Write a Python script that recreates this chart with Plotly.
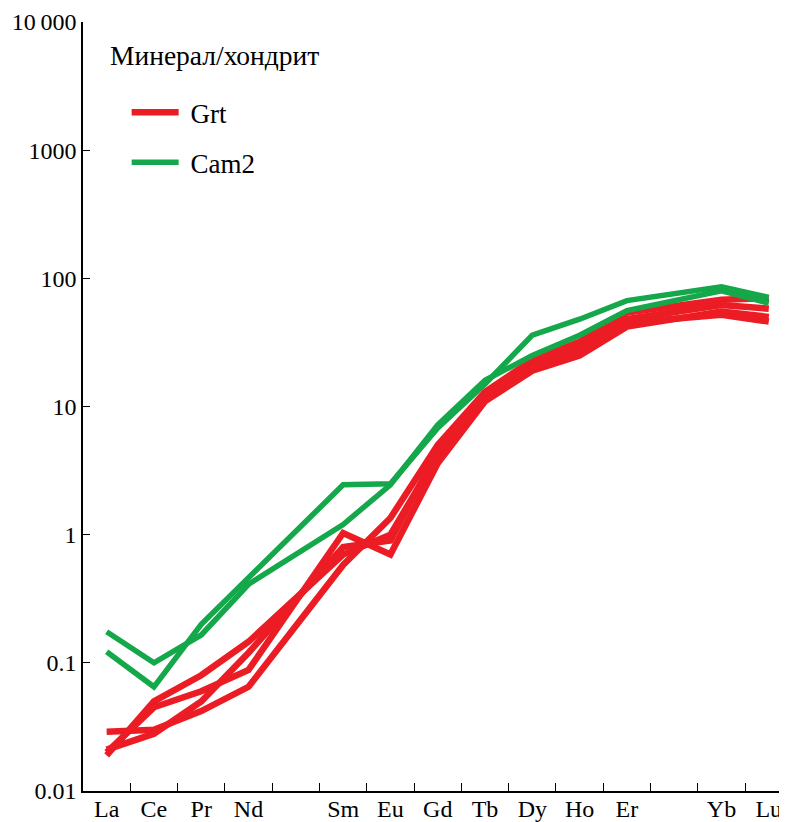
import plotly.graph_objects as go

elements = ["La", "Ce", "Pr", "Nd", "Pm", "Sm", "Eu", "Gd", "Tb", "Dy", "Ho", "Er", "Tm", "Yb", "Lu"]
tick_labels = ["La", "Ce", "Pr", "Nd", "", "Sm", "Eu", "Gd", "Tb", "Dy", "Ho", "Er", "", "Yb", "Lu"]
ree = ["La", "Ce", "Pr", "Nd", "Sm", "Eu", "Gd", "Tb", "Dy", "Ho", "Er", "Yb", "Lu"]

grt_1 = [0.029, 0.030, 0.042, 0.065, 0.58, 1.35, 5.0, 13.0, 23.0, 32.0, 54.0, 68.0, 70.0]
grt_2 = [0.019, 0.050, 0.080, 0.146, 0.70, 1.00, 4.2, 12.0, 21.0, 29.0, 48.0, 62.0, 58.0]
grt_3 = [0.020, 0.045, 0.060, 0.088, 1.03, 0.70, 3.6, 11.0, 19.0, 25.0, 42.0, 55.0, 50.0]
grt_4 = [0.021, 0.028, 0.050, 0.120, 0.80, 0.90, 4.5, 12.5, 20.0, 28.0, 45.0, 52.0, 46.0]
cam2_1 = [0.175, 0.100, 0.165, 0.41, 1.20, 2.45, 7.2, 16.0, 25.0, 36.0, 56.0, 80.0, 64.0]
cam2_2 = [0.122, 0.065, 0.200, 0.46, 2.45, 2.50, 6.8, 15.0, 36.0, 48.0, 67.0, 86.0, 71.0]

y_ticks = [0.01, 0.1, 1, 10, 100, 1000, 10000]
y_ticktext = ["0.01", "0.1", "1", "10", "100", "1000", "10\u2009000"]

RED = "#EC1C24"
GREEN = "#14A84A"

fig = go.Figure()
for i, s in enumerate([grt_1, grt_2, grt_3, grt_4]):
    fig.add_trace(go.Scatter(x=ree, y=s, mode="lines", line=dict(color=RED, width=6.5),
                             name="\u00a0Grt", legendgroup="grt", showlegend=(i == 0)))
for i, s in enumerate([cam2_1, cam2_2]):
    fig.add_trace(go.Scatter(x=ree, y=s, mode="lines", line=dict(color=GREEN, width=5.5),
                             name="\u00a0Cam2", legendgroup="cam", showlegend=(i == 0)))

font = "Liberation Serif"
fig.update_layout(
    width=779, height=814,
    margin=dict(l=75, r=0, t=14, b=31, autoexpand=False),
    paper_bgcolor="white", plot_bgcolor="white",
    font=dict(family=font, size=24, color="black"),
    legend=dict(x=0.062, y=0.914, xanchor="left", yanchor="top", itemwidth=47,
                bgcolor="rgba(0,0,0,0)", tracegroupgap=12,
                font=dict(family=font, size=27)),
    annotations=[dict(text="Минерал/хондрит", x=0.0355, y=0.957, xref="paper", yref="paper",
                      xanchor="left", yanchor="middle", showarrow=False,
                      font=dict(family=font, size=27.5))],
)
fig.update_xaxes(type="category", categoryorder="array", categoryarray=elements,
                 tickmode="array", tickvals=elements, ticktext=tick_labels,
                 tickson="boundaries", ticks="inside", ticklen=8, tickcolor="black",
                 showline=True, linecolor="black", linewidth=1.5, showgrid=False,
                 range=[-0.5, 14.385], zeroline=False, tickfont=dict(size=24), automargin=False,
                 ticklabelstandoff=-5)
fig.update_yaxes(type="log", range=[-2, 4], tickmode="array", tickvals=y_ticks, ticktext=y_ticktext,
                 ticks="inside", ticklen=7, tickcolor="black", showline=True, linecolor="black",
                 linewidth=1.5, showgrid=False, zeroline=False, tickfont=dict(size=24), automargin=False)

fig.write_html("out.html")
